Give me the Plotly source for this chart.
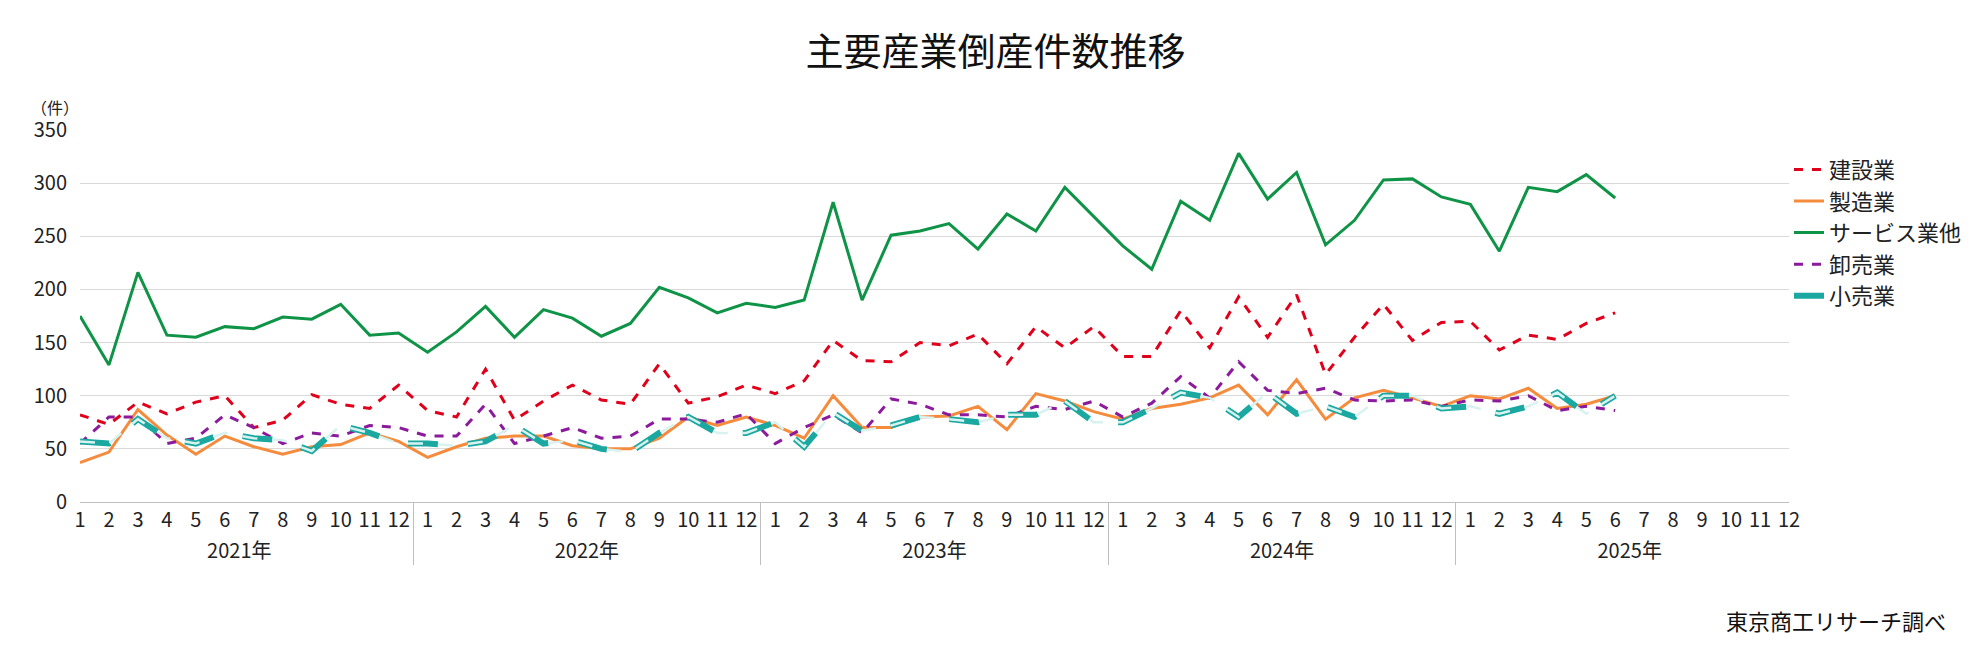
import plotly.graph_objects as go

years = ["2021年", "2022年", "2023年", "2024年", "2025年"]
months = [str(m) for m in range(1, 13)]

service = [175,129,216,157,155,165,163,174,172,186,157,159,
           141,160,184,155,181,173,156,168,202,192,178,187,
           183,190,282,190,251,255,262,238,271,255,296,268,
           241,219,283,265,328,285,310,242,265,303,304,287,
           280,236,296,292,308,286]
construction = [82,73,94,83,94,100,70,77,101,92,88,110,
                86,80,125,77,95,110,96,92,130,93,99,110,
                102,114,152,133,132,150,147,158,130,165,145,165,
                137,137,180,145,193,155,195,120,155,186,152,169,
                170,143,157,153,168,178]
manufacturing = [37,47,87,63,45,62,52,45,52,54,65,57,
                 42,52,60,62,62,53,50,50,60,80,72,80,
                 72,60,100,70,70,80,81,90,68,102,95,85,
                 78,88,92,98,110,82,115,78,98,105,98,90,
                 100,97,107,88,92,100]
wholesale = [55,80,80,55,60,82,70,55,65,62,72,70,
             62,62,92,55,62,70,60,62,78,78,75,83,
             55,70,82,65,97,92,82,82,80,90,87,95,
             80,93,118,98,132,105,102,107,96,95,96,90,
             96,95,100,86,90,86]
retail = [57,55,78,60,55,65,60,58,48,72,65,55,
          55,53,57,72,55,58,50,47,65,80,65,65,
          75,52,84,67,72,80,78,75,82,82,95,75,
          75,88,103,98,80,103,83,90,80,100,100,88,
          90,83,90,103,83,100]

xcat = [[y for y in years for _ in months], [m for _ in years for m in months]]

def pad(v):
    return v + [None] * (60 - len(v))

fig = go.Figure()
fig.add_trace(go.Scatter(x=xcat, y=pad(construction), name="建設業", mode="lines",
                         line=dict(color="#e0001b", width=3, dash="dash")))
fig.add_trace(go.Scatter(x=xcat, y=pad(manufacturing), name="製造業", mode="lines",
                         line=dict(color="#f58b3c", width=3)))
fig.add_trace(go.Scatter(x=xcat, y=pad(service), name="サービス業他", mode="lines",
                         line=dict(color="#0f9447", width=3)))
fig.add_trace(go.Scatter(x=xcat, y=pad(wholesale), name="卸売業", mode="lines",
                         line=dict(color="#8b1a9c", width=3, dash="dash")))
fig.add_trace(go.Scatter(x=xcat, y=pad(retail), name="小売業", mode="lines",
                         line=dict(color="#1aa8a0", width=6, dash="longdash")))
fig.add_trace(go.Scatter(x=xcat, y=pad(retail), name="小売業", mode="lines", showlegend=False,
                         line=dict(color="#d8f2f0", width=2.5, dash="longdash"), hoverinfo="skip"))

fig.update_layout(
    width=1975, height=655,
    paper_bgcolor="white", plot_bgcolor="white",
    font=dict(family="Noto Sans CJK JP", size=20, color="#222"),
    margin=dict(l=72, r=194, t=122, b=161),
    title=dict(text="主要産業倒産件数推移", x=0.5, xref="container", xanchor="center",
               y=0.933, yanchor="middle", font=dict(size=38, color="#111")),
    legend=dict(x=1.0, y=0.95, xanchor="left", yanchor="top", font=dict(size=22),
                bgcolor="rgba(0,0,0,0)", tracegroupgap=10),
    showlegend=True,
)
fig.update_yaxes(range=[0, 350], dtick=50, gridcolor="#d9d9d9", zeroline=False,
                 showline=False, tickfont=dict(size=20), ticks="", ticklabelstandoff=12)
fig.update_xaxes(type="multicategory", showline=True, linecolor="#bfbfbf", tickangle=0,
                 showgrid=False, tickfont=dict(size=20), showdividers=True,
                 dividercolor="#bfbfbf", dividerwidth=1)
fig.add_annotation(text="（件）", xref="paper", yref="paper", x=-0.03, y=1.10,
                   xanchor="left", showarrow=False, font=dict(size=16))
fig.add_annotation(text="東京商工リサーチ調べ", xref="paper", yref="paper", x=1.093, y=-0.366,
                   xanchor="right", showarrow=False, font=dict(size=22, color="#111"))
fig.write_html("out.html")
